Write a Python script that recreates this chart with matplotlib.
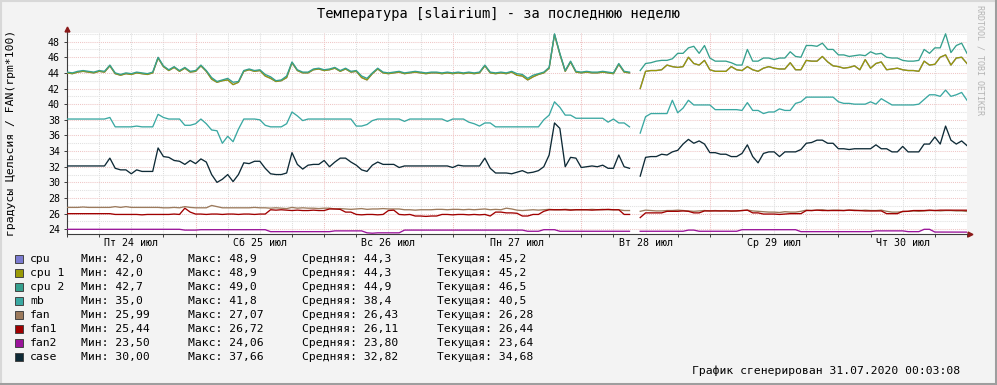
import matplotlib
matplotlib.use('Agg')
import matplotlib.pyplot as plt
from matplotlib.patches import Rectangle
from matplotlib.lines import Line2D

nan = float('nan')

# one reading per hour, hour 0 = Jul 24 00:00, hour 168 = Jul 31 00:00
hours = list(range(169))

cpu = [
    # Jul 24
    44.0, 43.9, 44.1, 44.2, 44.1, 44.0, 44.2, 44.1, 44.9, 43.9, 43.7, 43.9,
    43.8, 44.0, 43.9, 43.8, 44.0, 45.9, 44.8, 44.3, 44.7, 44.2, 44.6, 44.1,
    # Jul 25
    44.2, 44.9, 44.2, 43.2, 42.8, 43.0, 43.1, 42.5, 42.8, 44.2, 44.4, 44.2,
    44.3, 43.6, 43.3, 42.9, 43.0, 43.4, 45.3, 44.3, 44.0, 44.0, 44.4, 44.5,
    # Jul 26
    44.3, 44.4, 44.6, 44.2, 44.5, 44.1, 44.2, 43.4, 43.1, 43.9, 44.5, 44.0,
    43.9, 44.0, 44.1, 43.9, 44.0, 44.1, 44.0, 43.9, 44.0, 44.0, 43.9, 44.0,
    # Jul 27
    43.9, 44.0, 43.9, 44.0, 43.9, 44.0, 44.9, 44.0, 43.9, 44.0, 43.9, 44.1,
    43.7, 43.6, 43.1, 43.5, 43.8, 44.0, 44.6, 48.9, 46.4, 44.2, 45.4, 44.1,
    # Jul 28
    44.0, 44.1, 44.0, 44.0, 44.1, 44.0, 43.9, 45.1, 44.1, 44.0, nan, 42.0,
    44.2, 44.3, 44.3, 44.4, 45.0, 44.8, 44.7, 44.8, 46.0, 45.2, 45.0, 45.6,
    # Jul 29
    44.4, 44.2, 44.2, 44.2, 44.8, 44.4, 44.3, 44.8, 44.4, 44.2, 44.6, 44.8,
    44.6, 44.5, 44.5, 45.3, 44.4, 44.4, 45.6, 45.5, 45.5, 46.1, 45.4, 44.9,
    # Jul 30
    44.8, 44.6, 44.7, 44.9, 44.4, 45.7, 44.6, 45.2, 45.4, 44.4, 44.5, 44.6,
    44.4, 44.3, 44.3, 44.2, 45.5, 45.0, 45.1, 46.0, 46.3, 45.0, 45.9, 46.0,
    45.2,
]

# cpu 1 reports the same readings as cpu
cpu_1 = list(cpu)

cpu_2 = [
    44.1, 44.0, 44.2, 44.3, 44.2, 44.1, 44.3, 44.2, 45.0, 44.0, 43.8, 44.0,
    43.9, 44.1, 44.0, 43.9, 44.1, 46.0, 44.9, 44.4, 44.8, 44.3, 44.7, 44.2,
    44.3, 45.0, 44.3, 43.4, 42.9, 43.1, 43.3, 42.8, 42.9, 44.3, 44.5, 44.3,
    44.4, 43.8, 43.5, 43.0, 43.1, 43.6, 45.4, 44.4, 44.1, 44.1, 44.5, 44.6,
    44.4, 44.5, 44.7, 44.3, 44.6, 44.2, 44.3, 43.6, 43.3, 44.0, 44.6, 44.1,
    44.0, 44.1, 44.2, 44.0, 44.1, 44.2, 44.1, 44.0, 44.1, 44.1, 44.0, 44.1,
    44.0, 44.1, 44.0, 44.1, 44.0, 44.1, 45.0, 44.1, 44.0, 44.1, 44.0, 44.2,
    43.9, 43.8, 43.3, 43.7, 43.9, 44.1, 44.7, 49.0, 46.5, 44.3, 45.5, 44.2,
    44.1, 44.2, 44.1, 44.1, 44.2, 44.1, 44.0, 45.2, 44.2, 44.1, nan, 44.3,
    45.2, 45.3, 45.5, 45.6, 45.6, 45.8, 46.5, 46.5, 47.2, 47.4, 46.5, 47.5,
    45.9, 45.5, 45.5, 45.5, 45.3, 45.0, 45.0, 47.0, 45.5, 45.5, 45.9, 45.9,
    45.7, 45.9, 45.9, 46.7, 46.1, 46.0, 47.5, 47.5, 47.4, 47.8, 47.0, 47.0,
    46.3, 46.3, 46.1, 46.2, 46.3, 46.2, 46.7, 46.4, 46.5, 46.0, 45.9, 45.9,
    45.6, 45.5, 45.5, 45.6, 47.0, 46.5, 47.2, 47.2, 49.0, 46.6, 47.5, 47.8,
    46.5,
]

mb = [
    38.1, 38.1, 38.1, 38.1, 38.1, 38.1, 38.1, 38.1, 38.3, 37.1, 37.1, 37.1,
    37.1, 37.2, 37.1, 37.1, 37.1, 38.7, 38.3, 38.1, 38.1, 38.1, 37.3, 37.3,
    37.5, 38.1, 37.5, 36.7, 36.6, 35.0, 35.9, 35.2, 36.8, 38.1, 38.1, 38.1,
    38.0, 37.3, 37.1, 37.1, 37.1, 37.5, 39.0, 38.5, 37.9, 38.1, 38.1, 38.1,
    38.1, 38.1, 38.1, 38.1, 38.1, 38.1, 37.2, 37.2, 37.4, 37.9, 38.1, 38.1,
    38.1, 38.1, 38.1, 37.8, 38.1, 38.1, 38.1, 38.1, 38.1, 38.1, 38.1, 37.8,
    38.1, 38.1, 38.1, 37.7, 37.5, 37.2, 37.6, 37.6, 37.1, 37.1, 37.1, 37.1,
    37.1, 37.1, 37.1, 37.1, 37.1, 38.0, 38.6, 40.3, 39.6, 38.6, 38.6, 38.2,
    38.2, 38.2, 38.2, 38.2, 38.2, 37.7, 38.1, 37.6, 37.6, 37.1, nan, 36.3,
    38.4, 38.8, 38.8, 38.8, 38.8, 40.5, 38.9, 39.5, 40.5, 39.9, 39.9, 39.9,
    39.9, 39.3, 39.3, 39.3, 39.3, 39.3, 39.2, 40.2, 39.2, 39.2, 38.8, 39.0,
    39.0, 39.4, 39.2, 39.2, 40.1, 40.3, 40.9, 40.9, 40.9, 40.9, 40.9, 40.9,
    40.3, 40.1, 40.1, 40.0, 40.0, 40.0, 40.3, 40.0, 40.7, 40.3, 39.9, 39.9,
    39.9, 39.9, 39.9, 40.0, 40.6, 41.2, 41.2, 41.0, 41.8, 41.0, 41.2, 41.5,
    40.5,
]

fan = [
    26.8, 26.8, 26.8, 26.85, 26.8, 26.8, 26.8, 26.8, 26.8, 26.9, 26.8, 26.9,
    26.8, 26.8, 26.8, 26.8, 26.8, 26.8, 26.75, 26.75, 26.8, 26.75, 26.9, 26.8,
    26.75, 26.75, 26.75, 27.05, 26.9, 26.75, 26.75, 26.75, 26.75, 26.75, 26.75, 26.8,
    26.75, 26.75, 26.7, 26.75, 26.7, 26.65, 26.8, 26.7, 26.75, 26.7, 26.7, 26.65,
    26.7, 26.7, 26.6, 26.65, 26.6, 26.55, 26.6, 26.65, 26.55, 26.6, 26.6, 26.65,
    26.6, 26.6, 26.6, 26.5, 26.5, 26.45, 26.5, 26.5, 26.5, 26.55, 26.55, 26.5,
    26.55, 26.55, 26.5, 26.55, 26.5, 26.55, 26.6, 26.5, 26.55, 26.5, 26.7, 26.6,
    26.45, 26.4, 26.45, 26.5, 26.45, 26.5, 26.55, 26.5, 26.5, 26.55, 26.5, 26.5,
    26.5, 26.5, 26.55, 26.5, 26.55, 26.5, 26.5, 26.5, 26.4, 26.4, nan, 26.3,
    26.45, 26.4, 26.35, 26.35, 26.4, 26.4, 26.45, 26.4, 26.35, 26.3, 26.35, 26.4,
    26.35, 26.4, 26.35, 26.4, 26.3, 26.35, 26.4, 26.45, 26.35, 26.3, 26.25, 26.2,
    26.2, 26.15, 26.25, 26.2, 26.2, 26.3, 26.45, 26.4, 26.45, 26.5, 26.4, 26.45,
    26.45, 26.4, 26.45, 26.45, 26.4, 26.45, 26.4, 26.4, 26.45, 26.3, 26.2, 26.2,
    26.25, 26.3, 26.35, 26.3, 26.35, 26.4, 26.4, 26.35, 26.4, 26.4, 26.35, 26.35,
    26.28,
]

fan_1 = [
    26.0, 26.0, 26.0, 26.0, 26.0, 26.0, 26.0, 26.0, 26.0, 25.9, 25.9, 25.9,
    25.9, 25.9, 25.85, 25.9, 25.9, 25.9, 25.9, 25.9, 25.95, 25.9, 26.7, 26.2,
    25.95, 25.95, 25.9, 25.95, 25.95, 25.9, 25.95, 25.95, 25.9, 25.95, 25.95, 25.9,
    25.95, 25.95, 26.5, 26.45, 26.5, 26.45, 26.4, 26.45, 26.4, 26.4, 26.45, 26.4,
    26.4, 26.6, 26.6, 26.55, 26.2, 26.2, 25.9, 25.85, 25.9, 25.9, 25.85, 25.9,
    26.4, 26.45, 25.9, 25.85, 25.9, 25.7, 25.7, 25.65, 25.7, 25.7, 25.9, 25.9,
    25.85, 25.9, 25.9, 25.85, 25.9, 25.85, 25.9, 25.7, 26.2, 26.2, 26.1, 26.1,
    26.05, 25.7, 25.7, 25.9, 25.9, 26.3, 26.5, 26.5, 26.5, 26.5, 26.45, 26.5,
    26.5, 26.5, 26.45, 26.5, 26.5, 26.55, 26.5, 26.5, 25.9, 25.9, nan, 25.5,
    26.1, 26.1, 26.1, 26.1, 26.3, 26.3, 26.3, 26.35, 26.3, 26.1, 26.1, 26.35,
    26.35, 26.35, 26.35, 26.35, 26.35, 26.35, 26.4, 26.45, 26.1, 26.1, 25.95, 25.95,
    25.95, 25.9, 25.95, 26.0, 26.0, 26.0, 26.4, 26.4, 26.45, 26.4, 26.4, 26.4,
    26.4, 26.4, 26.45, 26.4, 26.4, 26.35, 26.35, 26.35, 26.35, 26.0, 26.0, 26.0,
    26.3, 26.3, 26.4, 26.4, 26.4, 26.45, 26.4, 26.45, 26.45, 26.45, 26.45, 26.45,
    26.44,
]

fan_2 = [
    24.0, 24.0, 24.0, 24.0, 24.0, 24.0, 24.0, 24.0, 24.0, 24.0, 24.0, 24.0,
    24.0, 24.0, 24.0, 24.0, 24.0, 24.0, 24.0, 24.0, 24.0, 24.0, 23.9, 23.9,
    23.9, 23.95, 23.95, 23.95, 23.95, 23.95, 23.95, 23.95, 23.95, 23.95, 23.95, 23.95,
    23.95, 23.95, 23.7, 23.7, 23.7, 23.7, 23.7, 23.7, 23.7, 23.7, 23.7, 23.7,
    23.7, 23.7, 23.8, 23.8, 23.8, 23.8, 23.8, 23.8, 23.55, 23.5, 23.55, 23.55,
    23.55, 23.55, 23.55, 23.9, 23.9, 23.9, 23.9, 23.9, 23.9, 23.9, 23.9, 23.9,
    23.9, 23.9, 23.9, 23.9, 23.9, 23.9, 23.9, 23.9, 23.9, 23.9, 23.9, 23.9,
    23.9, 23.9, 23.75, 23.75, 23.75, 23.95, 23.95, 23.95, 23.75, 23.75, 23.75, 23.75,
    23.75, 23.75, 23.75, 23.75, 23.75, 23.75, 23.75, 23.75, 23.75, 23.75, nan, 23.75,
    23.75, 23.75, 23.75, 23.75, 23.75, 23.75, 23.75, 23.75, 23.9, 23.9, 23.75, 23.75,
    23.75, 23.75, 23.75, 23.75, 23.75, 23.75, 23.95, 23.95, 23.95, 23.95, 23.95, 23.95,
    23.95, 23.95, 23.95, 23.95, 23.95, 23.7, 23.7, 23.7, 23.7, 23.7, 23.7, 23.7,
    23.7, 23.7, 23.7, 23.7, 23.7, 23.7, 23.7, 23.8, 23.8, 23.8, 23.8, 23.8,
    23.8, 23.7, 23.7, 23.7, 24.0, 24.0, 23.65, 23.65, 23.65, 23.65, 23.65, 23.65,
    23.64,
]

case = [
    32.1, 32.1, 32.1, 32.1, 32.1, 32.1, 32.1, 32.1, 33.1, 31.8, 31.6, 31.6,
    31.1, 31.6, 31.4, 31.4, 31.4, 34.4, 33.3, 33.2, 32.8, 32.7, 32.3, 32.8,
    32.4, 33.0, 32.6, 31.0, 30.0, 30.4, 31.0, 30.1, 31.0, 32.5, 32.4, 32.7,
    32.7, 31.8, 31.1, 31.0, 31.0, 31.2, 33.8, 32.3, 31.7, 32.2, 32.3, 32.3,
    32.8, 32.0, 32.6, 33.1, 33.1, 32.6, 32.2, 31.6, 31.4, 32.2, 32.6, 32.3,
    32.3, 32.3, 31.9, 32.1, 32.1, 32.1, 32.1, 32.1, 32.1, 32.1, 32.1, 32.1,
    31.9, 32.2, 32.1, 32.1, 32.1, 32.1, 33.1, 31.8, 31.2, 31.2, 31.2, 31.1,
    31.3, 31.5, 31.2, 31.3, 31.5, 32.0, 33.5, 37.6, 36.9, 32.0, 33.2, 33.1,
    31.9, 32.0, 32.1, 32.0, 32.2, 31.8, 31.8, 33.5, 32.0, 31.8, nan, 30.8,
    33.2, 33.3, 33.3, 33.6, 33.5, 33.9, 34.1, 34.9, 35.5, 35.0, 35.3, 34.9,
    33.8, 33.8, 33.6, 33.6, 33.3, 33.3, 33.7, 34.8, 33.3, 32.5, 33.7, 33.9,
    33.9, 33.3, 33.9, 33.9, 33.9, 34.2, 35.0, 35.1, 35.4, 35.4, 35.0, 35.0,
    34.3, 34.3, 34.2, 34.3, 34.3, 34.3, 34.3, 34.8, 34.3, 34.3, 33.9, 33.9,
    34.6, 33.9, 33.9, 33.9, 34.9, 34.9, 35.8, 34.9, 37.2, 35.4, 34.9, 35.3,
    34.7,
]

names = ['cpu', 'cpu 1', 'cpu 2', 'mb', 'fan', 'fan1', 'fan2', 'case']
colors = ['#7b7bd0', '#9a9a06', '#36a08e', '#3aa8a2', '#9c7a5c', '#a00000', '#9a149a', '#0e2a36']
mins = ['42,0', '42,0', '42,7', '35,0', '25,99', '25,44', '23,50', '30,00']
maxs = ['48,9', '48,9', '49,0', '41,8', '27,07', '26,72', '24,06', '37,66']
avgs = ['44,3', '44,3', '44,9', '38,4', '26,43', '26,11', '23,80', '32,82']
curs = ['45,2', '45,2', '46,5', '40,5', '26,28', '26,44', '23,64', '34,68']

day_labels = ['Пт 24 июл', 'Сб 25 июл', 'Вс 26 июл', 'Пн 27 июл',
              'Вт 28 июл', 'Ср 29 июл', 'Чт 30 июл']

series = [cpu, cpu_1, cpu_2, mb, fan, fan_1, fan_2, case]
for s in series:
    assert len(s) == len(hours), len(s)

plt.rcParams['font.family'] = 'DejaVu Sans Mono'

W, H = 997, 385


def fx(px):
    return px / W


def fy(py):
    return 1 - py / H


fig = plt.figure(figsize=(W / 100, H / 100), dpi=100, facecolor='#f3f3f3')
ax = fig.add_axes([fx(67), fy(234), 900 / W, 201 / H])
ax.set_facecolor('white')
ax.set_xlim(0, 168)
ax.set_ylim(23.4, 49.1)

# grid: minor grey, major light red, both dotted
for h in range(6, 168, 6):
    col = '#efc0c0' if h % 24 == 0 else '#dddddd'
    ax.axvline(h, color=col, lw=0.75, ls=(0, (1, 1)), zorder=0)
for v in range(24, 50):
    col = '#efc6c6' if v % 2 == 0 else '#e0e0e0'
    ax.axhline(v, color=col, lw=0.75, ls=(0, (1, 1)), zorder=0)

for s, c in zip(series, colors):
    ax.plot(hours, s, color=c, lw=0.95, zorder=3)

for side in ['top', 'right']:
    ax.spines[side].set_visible(False)
for side in ['left', 'bottom']:
    ax.spines[side].set_color('#3c3c3c')
    ax.spines[side].set_linewidth(0.8)

# axis arrows
ax.plot([0, 0], [49.1, 49.55], color='#3c3c3c', lw=0.8, clip_on=False)
ax.plot([0], [49.6], marker='^', ms=3.5, color='#8b1a1a', clip_on=False)
ax.plot([168, 168.5], [23.4, 23.4], color='#3c3c3c', lw=0.8, clip_on=False)
ax.plot([168.6], [23.4], marker='>', ms=3.5, color='#8b1a1a', clip_on=False)

ax.set_xticks([12 + 24 * i for i in range(7)])
ax.set_xticklabels(day_labels)
ax.set_xticks(list(range(0, 169, 6)), minor=True)
ax.tick_params(axis='x', which='major', length=0, pad=3, labelsize=7.2)
ax.tick_params(axis='x', which='minor', length=2, color='#3c3c3c', width=0.7)
ax.set_yticks(list(range(24, 49, 2)))
ax.set_yticklabels([str(v) for v in range(24, 49, 2)])
ax.tick_params(axis='y', length=2, color='#3c3c3c', width=0.7, pad=3, labelsize=7.2)

fig.text(fx(498), fy(14), 'Температура [slairium] - за последнюю неделю',
         ha='center', va='center', fontsize=9.8)
fig.text(fx(11), fy(133), 'градусы Цельсия / FAN(rpm*100)', rotation=90,
         ha='center', va='center', fontsize=8.2)
fig.text(fx(980), fy(60), 'RRDTOOL / TOBI OETIKER', rotation=270,
         ha='center', va='center', fontsize=6, color='#b4b4b4')

# legend rows
for i in range(len(names)):
    yc = 259 + 14 * i
    fig.patches.append(Rectangle((fx(15), fy(yc + 4)), 8 / W, 8 / H,
                                 transform=fig.transFigure, facecolor=colors[i],
                                 edgecolor='#444444', lw=0.7))
    fig.text(fx(30), fy(yc), names[i], va='center', fontsize=8.2)
    fig.text(fx(81), fy(yc), 'Мин: ' + mins[i], va='center', fontsize=8.2)
    fig.text(fx(188), fy(yc), 'Макс: ' + maxs[i], va='center', fontsize=8.2)
    fig.text(fx(302), fy(yc), 'Средняя: ' + avgs[i], va='center', fontsize=8.2)
    fig.text(fx(437), fy(yc), 'Текущая: ' + curs[i], va='center', fontsize=8.2)

fig.text(fx(960), fy(371), 'График сгенерирован 31.07.2020 00:03:08',
         ha='right', va='center', fontsize=8.2)

# image frame
fig.add_artist(Line2D([0, 1], [fy(1), fy(1)], color='#d8d8d8', lw=1.5))
fig.add_artist(Line2D([fx(1), fx(1)], [0, 1], color='#d8d8d8', lw=1.5))
fig.add_artist(Line2D([0, 1], [fy(383.5), fy(383.5)], color='#9e9e9e', lw=2.2))
fig.add_artist(Line2D([fx(995.5), fx(995.5)], [0, 1], color='#9e9e9e', lw=2.2))

fig.savefig('out.png', dpi=100, facecolor=fig.get_facecolor())
